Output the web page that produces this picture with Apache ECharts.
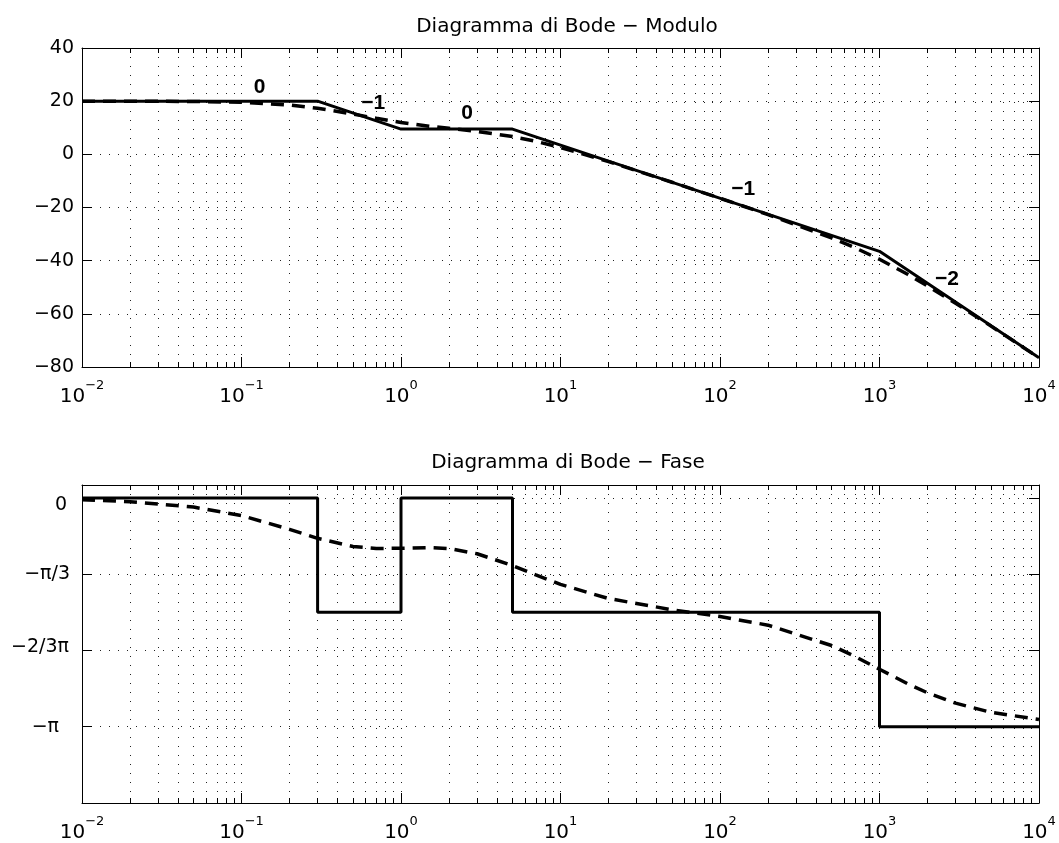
<!DOCTYPE html>
<html>
<head>
<meta charset="utf-8">
<script src="https://cdn.jsdelivr.net/npm/echarts@6/dist/echarts.min.js"></script>
<style>
html, body { margin: 0; background: #fff; }
#chart { width: 1059px; height: 843px; }
</style>
</head>
<body>
<div id="chart"></div>
<script>
// modulo: asintotico (continuo) e reale (tratteggiato)
var asymMagFreq = [0.01, 0.3, 1, 5, 1000, 10000];
var asymMagDb = [20, 20, 9.5, 9.5, -36.5, -76.5];

var realFreq = [0.01, 0.02, 0.05, 0.1, 0.2, 0.3, 0.5, 0.7, 1, 1.5, 2, 3, 5, 7, 10, 20, 50, 100, 200, 500, 700, 1000, 1500, 2000, 3000, 5000, 10000];
var realMagDb = [20.0, 19.98, 19.89, 19.58, 18.57, 17.35, 15.15, 13.56, 12.01, 10.6, 9.77, 8.62, 6.69, 4.91, 2.59, -2.75, -10.51, -16.53, -22.67, -31.43, -35.11, -39.49, -45.12, -49.49, -56.02, -64.61, -76.52];
var realPhase = [-0.025, -0.051, -0.125, -0.242, -0.431, -0.554, -0.667, -0.694, -0.691, -0.682, -0.695, -0.766, -0.928, -1.057, -1.187, -1.381, -1.535, -1.628, -1.747, -2.026, -2.175, -2.352, -2.551, -2.676, -2.818, -2.943, -3.042];

// fase asintotica a gradini
var asymPhaseFreq = [0.01, 0.3, 0.3, 1, 1, 5, 5, 1000, 1000, 10000];
var asymPhase = [0, 0, -1.5708, -1.5708, 0, 0, -1.5708, -1.5708, -3.1416, -3.1416];

// pendenze scritte sul modulo
var slopeText = ['0', '\u22121', '0', '\u22121', '\u22122'];
var slopeFreq = [0.13, 0.67, 2.6, 140, 2650];
var slopeDb = [25.4, 19.4, 15.5, -13.2, -46.9];

// tick fase
var phaseTicks = [0, -Math.PI / 3, -2 * Math.PI / 3, -Math.PI];
var phaseLabels = ['0', '\u2212\u03c0/3', '\u22122/3\u03c0', '\u2212\u03c0'];
var phaseStyles = ['p0', 'p1', 'p2', 'p3'];

var font = '"DejaVu Sans", "Liberation Sans", Arial, sans-serif';
var boldFont = '"Liberation Sans", Arial, sans-serif';
var dotted = { color: '#222', width: 1, type: [1, 8] };

function pairs(xs, ys) {
    var out = [];
    for (var i = 0; i < xs.length; i++) out.push([xs[i], ys[i]]);
    return out;
}

function xAxisBottom(gi) {
    return {
        type: 'log', logBase: 10, gridIndex: gi, position: 'bottom',
        min: 0.01, max: 10000,
        axisLine: { onZero: false, lineStyle: { color: '#000', width: 1 } },
        axisTick: { inside: true, length: 10, lineStyle: { color: '#000' } },
        minorTick: { show: true, splitNumber: 9, length: 5, lineStyle: { color: '#000' } },
        splitLine: { show: true, lineStyle: dotted },
        minorSplitLine: { show: true, lineStyle: dotted },
        axisLabel: {
            margin: 12,
            color: '#000',
            fontFamily: font,
            showMinLabel: true, showMaxLabel: true,
            formatter: function(v) {
                var ex = Math.round(Math.log(v) / Math.LN10);
                return '{b|10}{s|' + (ex < 0 ? '\u2212' + (-ex) : ex) + '}';
            },
            rich: {
                b: { fontSize: 20, fontFamily: font, color: '#000', verticalAlign: 'bottom', lineHeight: 28 },
                s: { fontSize: 13, fontFamily: font, color: '#000', verticalAlign: 'top', lineHeight: 28 }
            }
        }
    };
}
function xAxisTop(gi) {
    return {
        type: 'log', logBase: 10, gridIndex: gi, position: 'top',
        min: 0.01, max: 10000,
        axisLine: { onZero: false, lineStyle: { color: '#000', width: 1 } },
        axisTick: { inside: true, length: 10, lineStyle: { color: '#000' } },
        minorTick: { show: true, splitNumber: 9, length: 5, lineStyle: { color: '#000' } },
        axisLabel: { show: false },
        splitLine: { show: false }
    };
}

var myChart = echarts.init(document.getElementById('chart'));

var option = {
    backgroundColor: '#fff',
    animation: false,
    title: [{
        text: 'Diagramma di Bode \u2212 Modulo',
        left: 562, top: 12, textAlign: 'center',
        textStyle: { fontSize: 20, fontWeight: 'normal', color: '#000', fontFamily: font }
    }, {
        text: 'Diagramma di Bode \u2212 Fase',
        left: 563, top: 448, textAlign: 'center',
        textStyle: { fontSize: 20, fontWeight: 'normal', color: '#000', fontFamily: font }
    }],
    grid: [
        { left: 82, top: 48, width: 957, height: 319 },
        { left: 82, top: 485, width: 957, height: 318 }
    ],
    xAxis: [xAxisBottom(0), xAxisTop(0), xAxisBottom(1), xAxisTop(1)],
    yAxis: [{
        type: 'value', gridIndex: 0, position: 'left',
        min: -80, max: 40, interval: 20,
        axisLine: { show: true, lineStyle: { color: '#000' } },
        axisTick: { show: true, inside: true, length: 10, lineStyle: { color: '#000' } },
        splitLine: { show: true, lineStyle: dotted },
        axisLabel: {
            margin: 8, fontSize: 19, color: '#000', fontFamily: font,
            formatter: function(v) { return v < 0 ? '\u2212' + (-v) : '' + v; }
        }
    }, {
        type: 'value', gridIndex: 0, position: 'right',
        min: -80, max: 40, interval: 20,
        axisLine: { show: true, lineStyle: { color: '#000' } },
        axisTick: { show: true, inside: true, length: 10, lineStyle: { color: '#000' } },
        axisLabel: { show: false },
        splitLine: { show: false }
    }, {
        type: 'value', gridIndex: 1, position: 'left',
        min: -4 * Math.PI / 3, max: 0.178, interval: Math.PI / 3,
        axisLine: { show: true, lineStyle: { color: '#000' } },
        axisTick: { show: true, inside: true, length: 10, lineStyle: { color: '#000' } },
        splitLine: { show: true, lineStyle: dotted },
        axisLabel: {
            margin: 12, color: '#000', fontFamily: font,
            formatter: function(v) {
                for (var i = 0; i < phaseTicks.length; i++) {
                    if (Math.abs(v - phaseTicks[i]) < 1e-6) return '{' + phaseStyles[i] + '|' + phaseLabels[i] + '}';
                }
                return '';
            },
            rich: {
                p0: { fontSize: 19, fontFamily: font, color: '#000', padding: [14, 3, 0, 0] },
                p1: { fontSize: 19, fontFamily: font, color: '#000', padding: [0, 0, 0, 0] },
                p2: { fontSize: 19, fontFamily: font, color: '#000', padding: [0, 1, 6, 0] },
                p3: { fontSize: 19, fontFamily: font, color: '#000', padding: [0, 11, 0, 0] }
            }
        }
    }, {
        type: 'value', gridIndex: 1, position: 'right',
        min: -4 * Math.PI / 3, max: 0.178, interval: Math.PI / 3,
        axisLine: { show: true, lineStyle: { color: '#000' } },
        axisTick: { show: true, inside: true, length: 10, lineStyle: { color: '#000' } },
        axisLabel: { show: false },
        splitLine: { show: false }
    }],
    series: [{
        name: 'modulo reale', type: 'line',
        xAxisIndex: 0, yAxisIndex: 0,
        data: pairs(realFreq, realMagDb),
        showSymbol: false, z: 3,
        lineStyle: { color: '#000', width: 3.5, type: [13, 8] }
    }, {
        name: 'modulo asintotico', type: 'line',
        xAxisIndex: 0, yAxisIndex: 0,
        data: pairs(asymMagFreq, asymMagDb),
        showSymbol: false, z: 4,
        lineStyle: { color: '#000', width: 3 }
    }, {
        name: 'pendenze', type: 'scatter',
        xAxisIndex: 0, yAxisIndex: 0,
        symbolSize: 0, z: 5, silent: true,
        itemStyle: { opacity: 1 },
        data: slopeText.map(function(t, i) {
            return { name: t, value: [slopeFreq[i], slopeDb[i]] };
        }),
        label: {
            show: true, position: 'inside', opacity: 1,
            formatter: function(p) { return p.name; },
            fontSize: 21, fontWeight: 'bold', color: '#000', fontFamily: boldFont
        }
    }, {
        name: 'fase reale', type: 'line',
        xAxisIndex: 2, yAxisIndex: 2,
        data: pairs(realFreq, realPhase),
        showSymbol: false, z: 3,
        lineStyle: { color: '#000', width: 3.5, type: [13, 8] }
    }, {
        name: 'fase asintotica', type: 'line',
        xAxisIndex: 2, yAxisIndex: 2,
        data: pairs(asymPhaseFreq, asymPhase),
        showSymbol: false, z: 4,
        lineStyle: { color: '#000', width: 3 }
    }]
};

myChart.setOption(option);
</script>
</body>
</html>
